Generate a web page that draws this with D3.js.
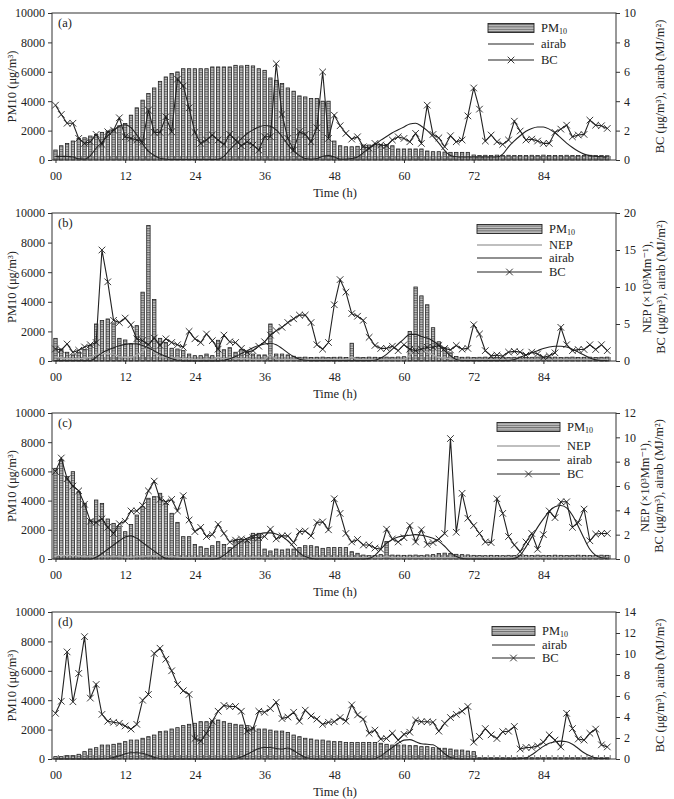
<!DOCTYPE html>
<html>
<head>
<meta charset="utf-8">
<script src="https://cdn.jsdelivr.net/npm/d3@7"></script>
<style>
  body { margin: 0; background: #fff; }
  svg text { font-family: "Liberation Serif", "DejaVu Serif", serif; fill: #222; }
</style>
</head>
<body>
<svg id="chart" width="674" height="799"></svg>
<script>
// Hours on the x axis and their labels
const hours = d3.range(96);
const tickHours = [0, 12, 24, 36, 48, 60, 72, 84];
const tickLabels = ["00", "12", "24", "36", "48", "60", "72", "84"];
const pmTicks = [0, 2000, 4000, 6000, 8000, 10000];

// Panel (a)
const pmA = [680, 970, 1130, 1290, 1470, 1510, 1630, 1740, 1880, 1970,
  2100, 2330, 2490, 3050, 3550, 4070, 4520, 4900, 5350, 5650,
  5880, 5990, 6210, 6210, 6210, 6210, 6210, 6330, 6330, 6330,
  6330, 6440, 6400, 6440, 6400, 6210, 6100, 5580, 5420, 5200,
  4900, 4680, 4360, 4290, 4180, 4180, 4000, 4000, 1290, 970,
  900, 900, 930, 1020, 1020, 1060, 1060, 1060, 970, 750,
  750, 750, 750, 750, 610, 565, 565, 540, 520, 520,
  520, 520, 340, 300, 320, 300, 330, 300, 320, 300,
  310, 300, 320, 300, 330, 300, 310, 300, 320, 300,
  310, 300, 320, 300, 310, 290];
const bcA = [3.73, 3.1, 2.5, 2.5, 1.47, 1.13, 1.24, 1.74, 1.06, 1.92,
  2.03, 2.87, 1.58, 1.47, 1.36, 1.24, 3.39, 1.88, 1.88, 2.94,
  1.92, 5.5, 5.04, 3.55, 1.88, 1.13, 1.36, 1.7, 1.36, 1.06,
  1.74, 1.36, 0.97, 1.24, 1.02, 0.68, 1.58, 1.58, 6.55, 3.1,
  1.47, 0.68, 1.92, 1.74, 1.24, 2.19, 5.99, 1.47, 3.05, 2.33,
  1.81, 1.42, 1.58, 0.9, 0.79, 1.13, 1.02, 0.97, 1.36, 1.58,
  1.47, 1.24, 1.81, 1.13, 3.73, 1.74, 1.51, 0.9, 1.65, 1.24,
  1.36, 3.0, 4.9, 3.46, 1.29, 1.7, 1.24, 1.06, 1.36, 2.64,
  1.97, 1.36, 1.42, 1.29, 1.13, 1.13, 1.88, 2.1, 2.37, 1.58,
  1.7, 1.74, 2.71, 2.37, 2.33, 2.15];
const airabA = [0.25, 0.25, 0.25, 0.2, 0.08, 0.05, 0.3, 0.8, 1.2, 1.65,
  2.0, 2.3, 2.4, 2.2, 1.7, 1.1, 0.6, 0.3, 0.12, 0.05,
  0.03, 0.03, 0.03, 0.03, 0.03, 0.03, 0.03, 0.03, 0.05, 0.25,
  0.7, 1.1, 1.45, 1.8, 2.05, 2.25, 2.35, 2.3, 2.05, 1.6,
  1.05, 0.6, 0.3, 0.1, 0.05, 0.1, 0.25, 0.3, 0.2, 0.05,
  0.05, 0.1, 0.2, 0.5, 0.8, 1.05, 1.35, 1.6, 1.85, 2.05,
  2.25, 2.45, 2.5, 2.3, 2.0, 1.6, 1.15, 0.65, 0.3, 0.22,
  0.2, 0.2, 0.2, 0.2, 0.2, 0.2, 0.2, 0.4, 0.9, 1.3,
  1.65, 1.95, 2.15, 2.25, 2.25, 2.1, 1.85, 1.5, 1.15, 0.85,
  0.6, 0.4, 0.3, 0.25, 0.22, 0.2];
const rightTicksA = [0, 2, 4, 6, 8, 10];

// Panel (b)
const pmB = [1530, 810, 590, 410, 590, 770, 1040, 2500, 2730, 2840,
  2570, 1530, 1420, 1150, 2390, 4650, 9160, 4150, 1530, 1260,
  860, 810, 700, 470, 360, 360, 470, 360, 1400, 760,
  900, 590, 770, 590, 470, 410, 410, 2500, 470, 470,
  410, 320, 250, 260, 240, 250, 260, 240, 250, 260,
  240, 1200, 250, 240, 260, 250, 240, 260, 250, 270,
  290, 2000, 5000, 4400, 3800, 2250, 1300, 900, 550, 300,
  250, 260, 240, 250, 260, 240, 250, 260, 240, 250,
  260, 240, 250, 260, 240, 250, 260, 240, 250, 260,
  240, 250, 260, 240, 250, 260];
const nepB = [0.6, 0.4, 0.3, 0.3, 0.3, 0.4, 0.5, 0.9, 1.0, 1.0,
  0.9, 0.6, 0.5, 0.5, 0.8, 1.3, 2.0, 1.2, 0.6, 0.5,
  0.4, 0.4, 0.3, 0.3, 0.2, 0.2, 0.3, 0.2, 0.5, 0.3,
  0.4, 0.3, 0.3, 0.3, 0.2, 0.2, 0.2, 0.9, 0.2, 0.2,
  0.2, 0.2, 0.2, 0.2, 0.2, 0.2, 0.2, 0.2, 0.2, 0.2,
  0.2, 0.5, 0.2, 0.2, 0.2, 0.2, 0.2, 0.2, 0.2, 0.2,
  0.2, 0.8, 1.6, 1.4, 1.2, 0.8, 0.5, 0.4, 0.3, 0.2,
  0.2, 0.2, 0.2, 0.2, 0.2, 0.2, 0.2, 0.2, 0.2, 0.2,
  0.2, 0.2, 0.2, 0.2, 0.2, 0.2, 0.2, 0.2, 0.2, 0.2,
  0.2, 0.2, 0.2, 0.2, 0.2, 0.2];
const bcB = [1.63, 1.5, 2.3, 1.17, 1.45, 1.9, 2.2, 2.5, 15.0, 10.7,
  5.5, 5.2, 5.8, 4.9, 3.0, 2.75, 2.2, 3.1, 2.1, 3.0,
  2.5, 2.2, 1.85, 4.0, 3.0, 2.5, 3.65, 2.75, 1.6, 3.5,
  2.6, 2.5, 1.7, 1.2, 1.4, 2.0, 2.6, 3.5, 4.1, 4.55,
  5.2, 5.7, 6.2, 6.2, 5.2, 2.2, 1.6, 2.5, 7.6, 11.0,
  9.3, 6.4, 6.05, 5.5, 3.2, 2.1, 1.7, 1.7, 2.0, 1.4,
  2.2, 1.6, 1.4, 1.6, 1.85, 1.85, 2.1, 1.7, 1.5, 2.1,
  1.6, 1.7, 4.9, 3.65, 1.4, 0.7, 0.8, 0.65, 1.2, 1.3,
  1.2, 0.8, 1.2, 0.95, 0.5, 0.7, 1.1, 4.55, 2.2, 1.4,
  1.55, 1.55, 2.2, 1.55, 2.2, 1.4];
const airabB = [0.05, 0.05, 0.05, 0.05, 0.05, 0.05, 0.05, 0.5, 1.1, 1.5,
  1.8, 2.05, 2.25, 2.35, 2.3, 2.1, 1.8, 1.35, 0.95, 0.6,
  0.3, 0.1, 0.02, 0.02, 0.02, 0.02, 0.02, 0.02, 0.02, 0.1,
  0.3, 0.6, 1.0, 1.4, 1.8, 2.1, 2.3, 2.4, 2.2, 1.7,
  1.1, 0.6, 0.25, 0.1, 0.05, 0.05, 0.05, 0.05, 0.05, 0.05,
  0.05, 0.05, 0.05, 0.05, 0.05, 0.1, 0.4, 0.9, 1.6, 2.3,
  3.0, 3.6, 3.6, 3.3, 3.1, 2.7, 2.1, 1.4, 0.7, 0.2,
  0.05, 0.05, 0.05, 0.05, 0.05, 0.05, 0.05, 0.05, 0.05, 0.2,
  0.5, 0.8, 1.1, 1.4, 1.7, 1.9, 2.0, 2.0, 1.9, 1.6,
  1.2, 0.8, 0.4, 0.15, 0.05, 0.05];
const rightTicksB = [0, 5, 10, 15, 20];

// Panel (c)
const pmC = [6210, 6780, 5640, 5980, 4610, 3810, 2670, 4040, 3810, 2740,
  2440, 2210, 1870, 2370, 3010, 3580, 4160, 4270, 4500, 3810,
  3130, 2510, 1530, 1530, 1000, 840, 730, 910, 1190, 1000,
  780, 1300, 1230, 1190, 1760, 1760, 680, 550, 680, 620,
  680, 680, 780, 910, 910, 840, 730, 780, 780, 780,
  780, 500, 390, 270, 230, 230, 300, 1200, 270, 260,
  250, 260, 270, 250, 280, 300, 380, 400, 380, 320,
  300, 280, 250, 240, 230, 250, 240, 230, 250, 240,
  260, 250, 240, 260, 250, 240, 260, 250, 240, 250,
  260, 250, 240, 250, 260, 250];
const nepC = [0.3, 0.3, 0.3, 0.3, 0.25, 0.2, 0.2, 0.2, 0.2, 0.2,
  0.2, 0.2, 0.15, 0.15, 0.2, 0.2, 0.25, 0.25, 0.25, 0.2,
  0.2, 0.15, 0.1, 0.1, 0.1, 0.1, 0.1, 0.1, 0.1, 0.1,
  0.1, 0.1, 0.1, 0.1, 0.15, 0.15, 0.1, 0.1, 0.1, 0.1,
  0.1, 0.1, 0.1, 0.1, 0.1, 0.1, 0.1, 0.1, 0.1, 0.1,
  0.1, 0.1, 0.1, 0.1, 0.1, 0.1, 0.1, 0.2, 0.1, 0.1,
  0.1, 0.1, 0.1, 0.1, 0.1, 0.1, 0.1, 0.1, 0.1, 0.1,
  0.1, 0.1, 0.1, 0.1, 0.1, 0.1, 0.1, 0.1, 0.1, 0.1,
  0.1, 0.1, 0.1, 0.1, 0.1, 0.1, 0.1, 0.1, 0.1, 0.1,
  0.1, 0.1, 0.1, 0.1, 0.1, 0.1];
const bcC = [7.2, 8.3, 6.6, 6.0, 5.6, 4.5, 3.1, 3.0, 3.3, 2.6,
  2.1, 2.9, 3.1, 3.95, 3.95, 4.4, 5.6, 6.4, 4.9, 4.7,
  4.9, 3.95, 5.2, 3.2, 2.25, 2.6, 1.85, 2.0, 2.85, 2.1,
  1.4, 1.55, 1.65, 1.55, 1.75, 1.75, 1.85, 2.45, 1.65, 1.9,
  1.9, 1.35, 2.25, 2.3, 1.9, 3.0, 3.05, 2.4, 4.95, 3.75,
  2.1, 1.4, 1.6, 1.15, 1.15, 0.9, 0.8, 2.45, 1.65, 1.4,
  1.75, 2.75, 1.4, 2.4, 1.2, 1.35, 1.65, 2.1, 9.9, 2.2,
  5.4, 3.35, 2.75, 2.1, 1.4, 1.35, 4.95, 3.75, 1.85, 1.15,
  0.6, 1.4, 2.1, 0.8, 2.0, 3.95, 3.4, 4.7, 4.7, 2.6,
  3.0, 4.1, 1.5, 2.05, 2.1, 2.1];
const airabC = [0, 0, 0, 0, 0, 0, 0, 0.15, 0.45, 0.8,
  1.15, 1.5, 1.8, 1.9, 1.7, 1.35, 1.0, 0.65, 0.3, 0.05,
  0, 0, 0, 0, 0, 0, 0, 0, 0.05, 0.3,
  0.7, 1.1, 1.45, 1.7, 1.9, 2.05, 2.15, 2.15, 2.05, 1.85,
  1.5, 1.0, 0.5, 0.2, 0.05, 0, 0, 0, 0, 0,
  0, 0, 0, 0, 0.05, 0.3, 0.8, 1.3, 1.6, 1.8,
  1.9, 1.95, 2.0, 1.95, 1.85, 1.7, 1.45, 1.05, 0.55, 0.2,
  0.05, 0, 0, 0, 0, 0, 0, 0, 0, 0.05,
  0.3, 1.0, 1.8, 2.6, 3.3, 3.9, 4.3, 4.4, 4.2, 3.6,
  2.7, 1.7, 0.8, 0.3, 0.1, 0.05];
const rightTicksC = [0, 2, 4, 6, 8, 10, 12];

// Panel (d)
const pmD = [160, 160, 230, 230, 320, 500, 680, 770, 950, 950,
  1000, 1070, 1180, 1290, 1290, 1410, 1520, 1630, 1860, 1900,
  2040, 2130, 2270, 2360, 2430, 2540, 2540, 2590, 2650, 2540,
  2430, 2360, 2310, 2270, 2130, 2040, 2040, 1970, 1900, 1900,
  1810, 1630, 1520, 1410, 1360, 1290, 1290, 1220, 1180, 1180,
  1130, 1130, 1130, 1130, 1130, 1130, 1070, 1000, 950, 950,
  950, 910, 910, 840, 840, 770, 730, 730, 680, 610,
  610, 540, 500, 90, 90, 90, 90, 90, 90, 90,
  90, 90, 90, 90, 90, 90, 90, 90, 90, 90,
  90, 90, 90, 90, 90, 90];
const bcD = [4.35, 5.5, 10.2, 5.45, 8.15, 11.65, 5.8, 7.1, 4.25, 3.6,
  3.5, 3.4, 3.15, 2.85, 3.3, 5.6, 6.15, 10.05, 10.55, 9.5,
  8.4, 7.1, 6.5, 6.15, 1.95, 1.7, 2.45, 3.6, 4.55, 5.1,
  5.0, 5.0, 4.55, 2.65, 2.9, 4.55, 4.45, 4.8, 5.4, 3.85,
  4.0, 4.45, 3.6, 4.65, 4.1, 3.8, 3.3, 3.5, 3.55, 3.95,
  3.6, 5.15, 4.2, 3.8, 2.45, 2.75, 1.9, 1.95, 2.45, 1.8,
  2.35, 2.55, 3.7, 3.55, 3.55, 3.5, 2.65, 3.4, 3.95, 4.25,
  4.55, 5.0, 1.6, 2.15, 2.9, 2.3, 1.95, 2.6, 2.65, 3.1,
  0.95, 1.1, 1.1, 1.25, 1.6, 2.3, 1.8, 1.15, 4.35, 2.9,
  1.9, 1.8, 2.45, 2.85, 1.35, 1.15];
const airabD = [0, 0, 0, 0, 0, 0, 0, 0, 0.02, 0.05,
  0.15, 0.3, 0.5, 0.6, 0.6, 0.55, 0.35, 0.15, 0.05, 0,
  0, 0, 0, 0, 0, 0, 0, 0, 0, 0,
  0, 0.05, 0.2, 0.45, 0.75, 1.0, 1.1, 1.1, 1.0, 0.95,
  1.05, 0.8, 0.45, 0.15, 0.05, 0, 0, 0, 0, 0,
  0, 0, 0, 0, 0, 0.05, 0.3, 0.7, 1.1, 1.5,
  1.8, 1.85, 1.65, 1.45, 1.4, 1.35, 1.0, 0.5, 0.15, 0.05,
  0, 0, 0, 0, 0, 0, 0, 0, 0, 0,
  0.05, 0.1, 0.4, 0.8, 1.2, 1.5, 1.65, 1.7, 1.65, 1.4,
  1.0, 0.6, 0.3, 0.1, 0.05, 0.05];
const rightTicksD = [0, 2, 4, 6, 8, 10, 12, 14];

// Layout
const plotLeft = 52;
const plotRight = 616;
const svg = d3.select("#chart");
const x = d3.scaleLinear().domain([-0.6, 96.5]).range([plotLeft, plotRight]);

// Striped fill for the PM10 bars
const defs = svg.append("defs");
const pattern = defs.append("pattern")
  .attr("id", "stripes")
  .attr("patternUnits", "userSpaceOnUse")
  .attr("width", 6)
  .attr("height", 2.4);
pattern.append("rect").attr("width", 6).attr("height", 2.4).attr("fill", "#c4c4c4");
pattern.append("rect").attr("width", 6).attr("height", 1).attr("fill", "#666");

const xMark = "M-3.3,-3.3L3.3,3.3M-3.3,3.3L3.3,-3.3";

drawPanel({
  top: 13, bottom: 160, tag: "(a)",
  pm: pmA, bc: bcA, airab: airabA, nep: null,
  rightTicks: rightTicksA,
  rightTitles: ["BC (μg/m³), airab (MJ/m²)"], rightX: [664],
  legendX: [488, 534], legendRows: [28, 44, 60]
});
drawPanel({
  top: 213, bottom: 361, tag: "(b)",
  pm: pmB, bc: bcB, airab: airabB, nep: nepB,
  rightTicks: rightTicksB,
  rightTitles: ["NEP (×10³Mm⁻¹),", "BC (μg/m³), airab (MJ/m²)"], rightX: [651, 665],
  legendX: [477, 542], legendRows: [229, 245, 258, 272]
});
drawPanel({
  top: 413, bottom: 559, tag: "(c)",
  pm: pmC, bc: bcC, airab: airabC, nep: nepC,
  rightTicks: rightTicksC,
  rightTitles: ["NEP (×10³Mm⁻¹),", "BC (μg/m³), airab (MJ/m²)"], rightX: [649, 663],
  legendX: [497, 560], legendRows: [427, 446, 460, 474]
});
drawPanel({
  top: 612, bottom: 759, tag: "(d)",
  pm: pmD, bc: bcD, airab: airabD, nep: null,
  rightTicks: rightTicksD,
  rightTitles: ["BC (μg/m³), airab (MJ/m²)"], rightX: [664],
  legendX: [492, 535], legendRows: [631, 645, 658]
});

function drawPanel(p) {
  const g = svg.append("g");
  const yLeft = d3.scaleLinear().domain([0, 10000]).range([p.bottom, p.top]);
  const rightMax = p.rightTicks[p.rightTicks.length - 1];
  const yRight = d3.scaleLinear().domain([0, rightMax]).range([p.bottom, p.top]);

  // PM10 bars
  g.append("g")
    .selectAll("rect")
    .data(p.pm)
    .join("rect")
    .attr("x", (d, i) => x(hours[i]) - 1.7)
    .attr("y", (d) => yLeft(d))
    .attr("width", 3.4)
    .attr("height", (d) => p.bottom - yLeft(d))
    .attr("fill", "url(#stripes)")
    .attr("stroke", "#222")
    .attr("stroke-width", 0.8);

  // minor hour ticks along the bottom
  g.append("g")
    .selectAll("line")
    .data(hours)
    .join("line")
    .attr("x1", (d) => x(d + 0.5))
    .attr("x2", (d) => x(d + 0.5))
    .attr("y1", p.bottom)
    .attr("y2", p.bottom - 4)
    .attr("stroke", "#333")
    .attr("stroke-width", 0.7);

  const line = (vals) => d3.line()
    .x((d, i) => x(hours[i]))
    .y((d) => yRight(d))(vals);
  const smooth = (vals) => d3.line()
    .x((d, i) => x(hours[i]))
    .y((d) => yRight(d))
    .curve(d3.curveMonotoneX)(vals);

  if (p.nep) {
    g.append("path").attr("d", smooth(p.nep))
      .attr("fill", "none").attr("stroke", "#aaa").attr("stroke-width", 1.4);
  }
  g.append("path").attr("d", smooth(p.airab))
    .attr("fill", "none").attr("stroke", "#222").attr("stroke-width", 1.1);
  g.append("path").attr("d", line(p.bc))
    .attr("fill", "none").attr("stroke", "#222").attr("stroke-width", 1.1);
  g.append("g")
    .selectAll("path")
    .data(p.bc)
    .join("path")
    .attr("transform", (d, i) => `translate(${x(hours[i])},${yRight(d)})`)
    .attr("d", xMark)
    .attr("fill", "none")
    .attr("stroke", "#222")
    .attr("stroke-width", 0.9);

  // frame
  g.append("rect")
    .attr("x", plotLeft).attr("y", p.top)
    .attr("width", plotRight - plotLeft).attr("height", p.bottom - p.top)
    .attr("fill", "none").attr("stroke", "#333").attr("stroke-width", 1);

  // left axis
  const leftAxis = g.append("g").attr("transform", `translate(${plotLeft},0)`)
    .call(d3.axisLeft(yLeft).tickValues(pmTicks).tickSize(4).tickPadding(3).tickFormat(d3.format("d")));
  leftAxis.select(".domain").remove();
  leftAxis.selectAll("line").attr("stroke", "#333");
  leftAxis.selectAll("text").attr("font-size", 12).style("font-family", '"Liberation Serif", serif').attr("fill", "#222");

  // right axis
  const rightAxis = g.append("g").attr("transform", `translate(${plotRight},0)`)
    .call(d3.axisRight(yRight).tickValues(p.rightTicks).tickSize(4).tickPadding(4));
  rightAxis.select(".domain").remove();
  rightAxis.selectAll("line").attr("stroke", "#333");
  rightAxis.selectAll("text").attr("font-size", 12).style("font-family", '"Liberation Serif", serif').attr("fill", "#222");

  // bottom axis
  const bottomAxis = g.append("g").attr("transform", `translate(0,${p.bottom})`)
    .call(d3.axisBottom(x).tickValues(tickHours).tickSize(3).tickPadding(8)
      .tickFormat((d, i) => tickLabels[i]));
  bottomAxis.select(".domain").remove();
  bottomAxis.selectAll("line").attr("stroke", "#333");
  bottomAxis.selectAll("text").attr("font-size", 12).style("font-family", '"Liberation Serif", serif').attr("fill", "#222");

  g.append("text")
    .attr("x", 335).attr("y", p.bottom + 37)
    .attr("text-anchor", "middle").attr("font-size", 12.5)
    .text("Time (h)");

  const midY = (p.top + p.bottom) / 2;
  g.append("text")
    .attr("transform", `translate(16,${midY}) rotate(-90)`)
    .attr("text-anchor", "middle").attr("font-size", 12.5)
    .text("PM10 (μg/m³)");

  p.rightTitles.forEach((t, i) => {
    g.append("text")
      .attr("transform", `translate(${p.rightX[i]},${midY}) rotate(-90)`)
      .attr("text-anchor", "middle").attr("font-size", 12.5)
      .attr("fill", "#444")
      .text(t);
  });

  g.append("text")
    .attr("x", 58).attr("y", p.top + 14)
    .attr("font-size", 12.5)
    .text(p.tag);

  // legend
  const [lx0, lx1] = p.legendX;
  const rows = p.legendRows;
  const lg = g.append("g");
  lg.append("rect")
    .attr("x", lx0).attr("y", rows[0] - 4.5)
    .attr("width", lx1 - lx0).attr("height", 9)
    .attr("fill", "url(#stripes)").attr("stroke", "#222").attr("stroke-width", 0.9);
  const pmText = lg.append("text").attr("x", lx1 + 7).attr("y", rows[0] + 4).attr("font-size", 12.5);
  pmText.append("tspan").text("PM");
  pmText.append("tspan").attr("font-size", 8).attr("dy", 2).text("10");

  let r = 1;
  if (p.nep) {
    lg.append("line").attr("x1", lx0).attr("x2", lx1).attr("y1", rows[r]).attr("y2", rows[r])
      .attr("stroke", "#aaa").attr("stroke-width", 1.6);
    lg.append("text").attr("x", lx1 + 7).attr("y", rows[r] + 4).attr("font-size", 12.5).text("NEP");
    r++;
  }
  lg.append("line").attr("x1", lx0).attr("x2", lx1).attr("y1", rows[r]).attr("y2", rows[r])
    .attr("stroke", "#222").attr("stroke-width", 1.1);
  lg.append("text").attr("x", lx1 + 7).attr("y", rows[r] + 4).attr("font-size", 12.5).text("airab");
  r++;
  lg.append("line").attr("x1", lx0).attr("x2", lx1).attr("y1", rows[r]).attr("y2", rows[r])
    .attr("stroke", "#222").attr("stroke-width", 1.1);
  lg.append("path")
    .attr("transform", `translate(${(lx0 + lx1) / 2},${rows[r]})`)
    .attr("d", xMark).attr("fill", "none").attr("stroke", "#222").attr("stroke-width", 0.9);
  lg.append("text").attr("x", lx1 + 7).attr("y", rows[r] + 4).attr("font-size", 12.5).text("BC");
}
</script>
</body>
</html>
